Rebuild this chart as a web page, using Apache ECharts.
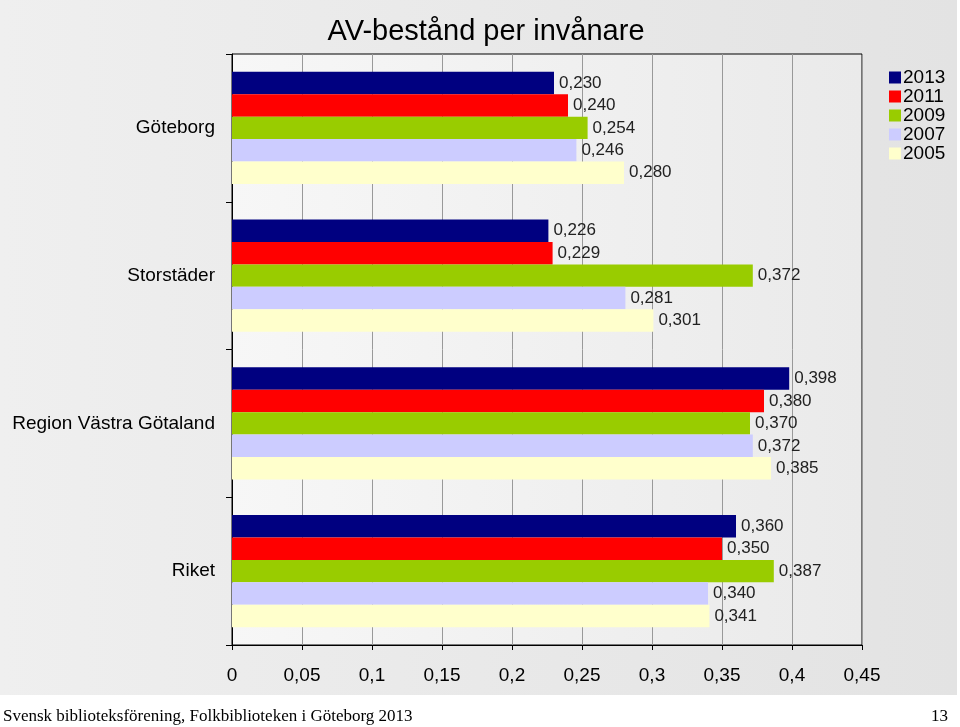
<!DOCTYPE html>
<html>
<head>
<meta charset="utf-8">
<script src="https://cdn.jsdelivr.net/npm/echarts@6/dist/echarts.min.js"></script>
<style>
html,body{margin:0;padding:0;background:#fff;}
#chart{width:960px;height:727px;}
</style>
</head>
<body>
<div id="chart"></div>
<script>
var categories = ['Göteborg', 'Storstäder', 'Region Västra Götaland', 'Riket'];
var years = ['2013', '2011', '2009', '2007', '2005'];
var colors = ['#000080', '#ff0000', '#99cc00', '#ccccff', '#ffffcc'];
var v2013 = [0.230, 0.226, 0.398, 0.360];
var v2011 = [0.240, 0.229, 0.380, 0.350];
var v2009 = [0.254, 0.372, 0.370, 0.387];
var v2007 = [0.246, 0.281, 0.372, 0.340];
var v2005 = [0.280, 0.301, 0.385, 0.341];
var seriesValues = [v2013, v2011, v2009, v2007, v2005];
var xTicks = ['0', '0,05', '0,1', '0,15', '0,2', '0,25', '0,3', '0,35', '0,4', '0,45'];

var chart = echarts.init(document.getElementById('chart'));
var series = years.map(function (y, i) {
  return {
    name: y,
    type: 'bar',
    data: seriesValues[i],
    barGap: '0%',
    barCategoryGap: '24%',
    itemStyle: { color: colors[i] },
    label: {
      show: true,
      position: 'right',
      distance: 5,
      color: '#222',
      fontFamily: 'Liberation Sans, Arial',
      fontSize: 17,
      formatter: function (p) { return p.value.toFixed(3).replace('.', ','); }
    }
  };
});

chart.setOption({
  animation: false,
  backgroundColor: '#ffffff',
  graphic: [
    {
      type: 'rect', z: -10, silent: true,
      shape: { x: 0, y: 0, width: 957, height: 695 },
      style: { fill: new echarts.graphic.LinearGradient(0, 0, 1, 0, [
        { offset: 0, color: '#efefef' }, { offset: 1, color: '#e3e3e3' }]) }
    },
    {
      type: 'text', left: 3, top: 708,
      style: { text: 'Svensk biblioteksförening, Folkbiblioteken i Göteborg 2013',
        font: '17px "Liberation Serif", serif', fill: '#000' }
    },
    {
      type: 'text', right: 12, top: 708,
      style: { text: '13', font: '17px "Liberation Serif", serif', fill: '#000' }
    }
  ],
  title: {
    text: 'AV-bestånd per invånare',
    left: 481, textAlign: 'center', top: 12,
    textStyle: { fontFamily: 'Liberation Sans, Arial', fontSize: 29, fontWeight: 'normal', color: '#000' }
  },
  legend: {
    orient: 'vertical',
    left: 884, top: 63,
    itemWidth: 12, itemHeight: 12, itemGap: 0,
    icon: 'rect',
    textStyle: { fontFamily: 'Liberation Sans, Arial', fontSize: 19, lineHeight: 19, color: '#000', padding: [0, 0, 0, -3] },
    data: years
  },
  grid: {
    left: 232, right: 98, top: 54, bottom: 82,
    show: true,
    borderColor: '#000', borderWidth: 1,
    backgroundColor: new echarts.graphic.LinearGradient(0, 0, 1, 0, [
      { offset: 0, color: '#f7f7f7' }, { offset: 1, color: '#eaeaea' }])
  },
  xAxis: {
    type: 'value', min: 0, max: 0.45, interval: 0.05,
    axisLine: { show: true, lineStyle: { color: '#000' } },
    axisTick: { show: true, length: 5, lineStyle: { color: '#000' } },
    splitLine: { show: true, lineStyle: { color: '#999' } },
    axisLabel: {
      margin: 21, color: '#000', fontFamily: 'Liberation Sans, Arial', fontSize: 19,
      formatter: function (v) { return xTicks[Math.round(v / 0.05)]; }
    }
  },
  yAxis: {
    type: 'category', data: categories, inverse: true,
    axisLine: { show: true, lineStyle: { color: '#000' } },
    axisTick: { show: true, length: 6, lineStyle: { color: '#000' } },
    axisLabel: { margin: 17, color: '#000', fontFamily: 'Liberation Sans, Arial', fontSize: 19 }
  },
  series: series
});
</script>
</body>
</html>
